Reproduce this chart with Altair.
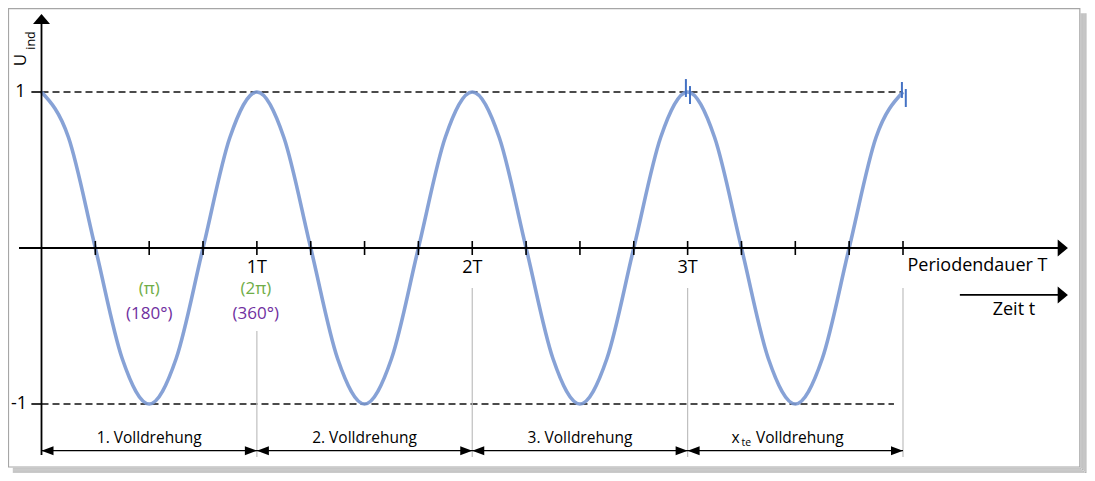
import altair as alt
import pandas as pd

FONT = "Open Sans"

# ---- wave samples (every 1/8 period, in units of T) ----
t_vals = [0, 0.125, 0.25, 0.375, 0.5, 0.625, 0.75, 0.875,
          1, 1.125, 1.25, 1.375, 1.5, 1.625, 1.75, 1.875,
          2, 2.125, 2.25, 2.375, 2.5, 2.625, 2.75, 2.875,
          3, 3.125, 3.25, 3.375, 3.5, 3.625, 3.75, 3.875, 4]
u_vals = [1, 0.71, 0, -0.71, -1, -0.71, 0, 0.71,
          1, 0.71, 0, -0.71, -1, -0.71, 0, 0.71,
          1, 0.71, 0, -0.71, -1, -0.71, 0, 0.71,
          1, 0.71, 0, -0.71, -1, -0.71, 0, 0.71, 1]

# x-axis ticks (quarter periods)
tick_pos = [0.25, 0.5, 0.75, 1, 1.25, 1.5, 1.75, 2, 2.25, 2.5, 2.75, 3,
            3.25, 3.5, 3.75, 4]
period_labels = ["1T", "2T", "3T"]
period_label_pos = [1, 2, 3]
y_labels = ["1", "-1"]
y_label_vals = [1, -1]
turn_labels = ["1. Volldrehung", "2. Volldrehung", "3. Volldrehung"]
turn_label_pos = [0.5, 1.5, 2.5]
turn_bounds = [0, 1, 2, 3, 4]
green_labels = ["(π)", "(2π)"]
purple_labels = ["(180°)", "(360°)"]
angle_label_pos = [0.5, 0.995]

X = alt.Scale(domain=[0, 4], range=[33.5, 895], zero=False, nice=False)
Y = alt.Scale(domain=[-1, 1], range=[396, 84], zero=False, nice=False)


def xe(f="x"):
    return alt.X(f"{f}:Q", scale=X, axis=None)


def ye(f="y"):
    return alt.Y(f"{f}:Q", scale=Y, axis=None)


def rules(rows, color="black", width=1.0, dash=None, opacity=1.0):
    df = pd.DataFrame(rows, columns=["x", "x2", "y", "y2"])
    kw = dict(color=color, strokeWidth=width, opacity=opacity)
    if dash:
        kw["strokeDash"] = dash
    return alt.Chart(df).mark_rule(**kw).encode(
        x=xe("x"), x2="x2:Q", y=ye("y"), y2="y2:Q")


def texts(labels, xs, ys, size=16, color="black", align="center", angle=0,
          baseline="middle"):
    df = pd.DataFrame({"x": xs, "y": ys, "t": labels})
    kw = dict(font=FONT, fontSize=size, color=color, align=align,
              baseline=baseline)
    if angle:
        kw["angle"] = angle
    return alt.Chart(df).mark_text(**kw).encode(x=xe("x"), y=ye("y"), text="t:N")


def heads(xs, ys, shape, size, color="black"):
    df = pd.DataFrame({"x": xs, "y": ys})
    return alt.Chart(df).mark_point(shape=shape, size=size, filled=True,
                                    color=color, opacity=1, strokeWidth=0).encode(
        x=xe("x"), y=ye("y"))


UP = "M-1,0.6 L0,-0.6 L1,0.6 Z"
RIGHT = "M-0.6,-1 L0.6,0 L-0.6,1 Z"
R_SMALL = "M-1,-0.75 L1,0 L-1,0.75 Z"
L_SMALL = "M1,-0.75 L-1,0 L1,0.75 Z"

layers = []

# frame + shadow
FL, FR, FT, FB = -0.1532, 4.821, 1.535, -1.404
layers.append(rules([[FR + 0.007 * k, FR + 0.007 * k, FT - 0.03, FB - 0.0096 * k]
                     for k in range(1, 5)], color="#808080", width=1.6,
                    opacity=0.45))
layers.append(rules([[FL + 0.02, FR + 0.007 * k, FB - 0.0096 * k, FB - 0.0096 * k]
                     for k in range(1, 5)], color="#808080", width=1.6,
                    opacity=0.45))
frame_df = pd.DataFrame({"x": [FL], "x2": [FR], "y": [FT], "y2": [FB]})
layers.append(alt.Chart(frame_df).mark_rect(fill="white", stroke="#A6A6A6",
                                            strokeWidth=1.2).encode(
    x=xe("x"), x2="x2:Q", y=ye("y"), y2="y2:Q"))

# dashed level lines
layers.append(rules([[0, 4, 1, 1], [0, 3.958, -1, -1]], color="#111111",
                    width=1.3, dash=[7, 4]))

# gray vertical guide lines
layers.append(rules([[1, 1, -0.532, -1.34], [2, 2, -0.256, -1.34],
                     [3, 3, -0.256, -1.34], [4, 4, -0.256, -1.34]],
                    color="#BFBFBF", width=1.2))

# wave
wave_df = pd.DataFrame({"x": t_vals, "y": u_vals})
layers.append(alt.Chart(wave_df).mark_line(color="#7A98D2", strokeWidth=3.6,
                                           opacity=0.9,
                                           interpolate="monotone").encode(
    x=xe("x"), y=ye("y"), order="x:Q"))

# break markers
layers.append(rules([[2.992, 2.992, 1.083, 0.968], [3.011, 3.011, 1.038, 0.923],
                     [3.995, 3.995, 1.064, 0.962], [4.013, 4.013, 1.019, 0.904]],
                    color="#4472C4", width=2))

# axes
layers.append(rules([[-0.1045, 4.742, 0, 0], [0, 0, -1.327, 1.468],
                     [4.264, 4.742, -0.301, -0.301]], width=1.8))
layers.append(rules([[p, p, 0.045, -0.045] for p in tick_pos], width=1.6))
layers.append(rules([[-0.047, 0, v, v] for v in y_label_vals], width=1.6))
layers.append(heads([0], [1.468], UP, 289))
layers.append(heads([4.742, 4.742], [0, -0.301], RIGHT, 289))

# dimension arrows
layers.append(rules([[0, 4, -1.299, -1.299]], width=1.4))
off = 0.028
layers.append(heads([b - off for b in turn_bounds[1:]], [-1.299] * 4, R_SMALL, 144))
layers.append(heads([b + off for b in turn_bounds[:-1]], [-1.299] * 4, L_SMALL, 144))

# texts
layers.append(texts(y_labels, [-0.098, -0.104], y_label_vals, size=18))
layers.append(texts(["U"], [-0.093], [1.205], size=17, angle=270))
layers.append(texts(["ind"], [-0.048], [1.33], size=12.5, angle=270))
layers.append(texts(period_labels, period_label_pos, [-0.128] * 3, size=18))
layers.append(texts(["Periodendauer T"], [4.021], [-0.118], size=18, align="left"))
layers.append(texts(["Zeit t"], [4.515], [-0.397], size=18))
layers.append(texts(green_labels, angle_label_pos, [-0.263] * 2, size=17,
                    color="#70AD47"))
layers.append(texts(purple_labels, angle_label_pos, [-0.423] * 2, size=17,
                    color="#7030A0"))
layers.append(texts(turn_labels, turn_label_pos, [-1.218] * 3, size=15.5))
layers.append(texts(["x"], [3.222], [-1.218], size=15.5))
layers.append(texts(["te"], [3.272], [-1.247], size=10.5))
layers.append(texts(["Volldrehung"], [3.317], [-1.218], size=15.5, align="left"))

chart = alt.layer(*layers).properties(
    width=1079, height=465, padding=0,
    autosize=alt.AutoSizeParams(type="none"),
).configure_view(stroke=None)

chart.save("out.html", embed_options={"renderer": "svg", "actions": False})
